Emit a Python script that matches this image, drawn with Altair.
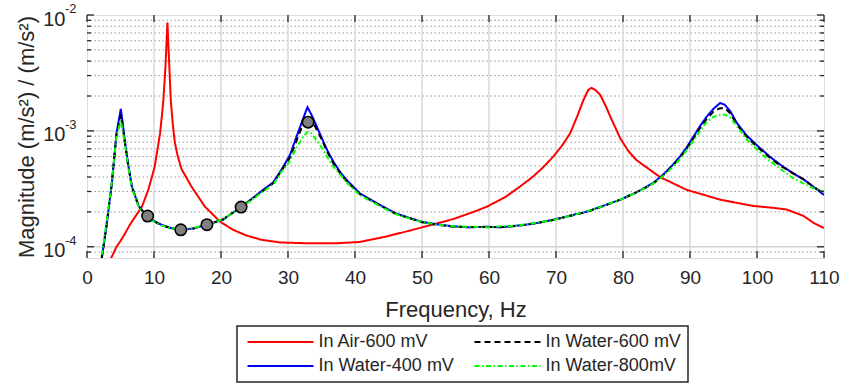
import altair as alt
import pandas as pd

# ---------------- data ----------------
air_f = [3.4, 3.7, 4.4, 5.0, 5.7, 6.4, 7.2, 8.2, 9.15, 10.1, 10.9, 11.15, 11.4, 11.7, 12.0,
         12.3, 12.5, 12.8, 13.1, 13.5, 14.1, 15.6, 17.6, 19.85, 21.8, 23.8, 26.0, 28.8, 33.3, 37.0,
         40.7, 44.5, 48.2, 51.5, 54.6, 57.5, 59.7, 62.5, 64.6, 66.5, 68.0, 69.6, 71.0,
         72.1, 73.2, 74.1, 74.8, 75.3, 75.9, 76.6, 77.4, 78.1, 79.6, 80.8, 82.0, 85.5,
         89.5, 94.5, 99.4, 102.0, 104.4, 106.9, 108.5, 110.0]
air_v = [7.6e-5, 8.2e-5, 1.0e-4, 1.12e-4, 1.31e-4, 1.55e-4, 1.82e-4, 2.22e-4, 3.1e-4,
         4.9e-4, 9.5e-4, 1.3e-3, 1.85e-3, 3.5e-3, 8.6e-3, 3.5e-3, 1.85e-3, 1.15e-3, 8.0e-4,
         6.2e-4, 4.7e-4, 3.3e-4, 2.22e-4, 1.65e-4, 1.4e-4, 1.25e-4, 1.15e-4, 1.09e-4, 1.07e-4, 1.07e-4,
         1.1e-4, 1.22e-4, 1.38e-4, 1.55e-4, 1.73e-4, 1.98e-4, 2.22e-4, 2.7e-4, 3.3e-4,
         4.0e-4, 4.8e-4, 6.0e-4, 7.6e-4, 9.5e-4, 1.35e-3, 1.85e-3, 2.25e-3, 2.35e-3,
         2.25e-3, 2.05e-3, 1.65e-3, 1.33e-3, 8.6e-4, 6.7e-4, 5.6e-4, 4.0e-4, 3.1e-4,
         2.55e-4, 2.25e-4, 2.18e-4, 2.1e-4, 1.85e-4, 1.6e-4, 1.45e-4]

water_f = [2.2, 2.9, 3.7, 4.4, 5.05, 5.4, 5.7, 6.2, 6.7, 7.7, 8.9, 10.0, 11.1, 12.5, 14.0,
           15.9, 17.9, 20.3, 23.0, 24.8, 26.3, 27.8, 29.0, 30.3, 31.3, 32.2, 32.9, 33.5,
           34.2, 35.0, 35.8, 36.8, 37.8, 38.7, 40.7, 43.7, 46.0, 48.2, 50.0, 52.0, 54.7,
           57.0, 59.7, 61.7, 63.6, 65.5, 67.1, 69.6, 72.0, 74.6, 77.0, 79.6, 82.0, 84.5,
           86.0, 87.3, 88.5, 89.5, 90.5, 91.5, 92.5, 93.5, 94.5, 95.2, 96.0, 97.0, 98.4,
           100.0, 101.9, 103.5, 105.4, 107.0, 108.4, 110.0]
w400_v = [7.9e-5, 1.5e-4, 3.5e-4, 9.5e-4, 1.55e-3, 1.08e-3, 7.8e-4, 4.9e-4, 3.3e-4, 2.25e-4,
          1.85e-4, 1.67e-4, 1.55e-4, 1.45e-4, 1.40e-4, 1.44e-4, 1.55e-4, 1.72e-4, 2.2e-4,
          2.65e-4, 3.1e-4, 3.6e-4, 4.6e-4, 6.2e-4, 9.0e-4, 1.25e-3, 1.6e-3, 1.38e-3,
          1.12e-3, 8.8e-4, 6.9e-4, 5.4e-4, 4.4e-4, 3.8e-4, 2.9e-4, 2.3e-4, 1.95e-4,
          1.77e-4, 1.64e-4, 1.57e-4, 1.50e-4, 1.47e-4, 1.49e-4, 1.47e-4, 1.51e-4, 1.55e-4,
          1.60e-4, 1.71e-4, 1.85e-4, 2.01e-4, 2.25e-4, 2.55e-4, 2.95e-4, 3.55e-4, 4.2e-4,
          5.0e-4, 6.0e-4, 7.2e-4, 8.9e-4, 1.1e-3, 1.33e-3, 1.55e-3, 1.74e-3, 1.68e-3,
          1.48e-3, 1.17e-3, 9.2e-4, 7.5e-4, 6.0e-4, 5.1e-4, 4.3e-4, 3.8e-4, 3.3e-4, 2.8e-4]
w600_v = [8.0e-5, 1.5e-4, 3.5e-4, 9.3e-4, 1.38e-3, 1.02e-3, 7.6e-4, 4.8e-4, 3.3e-4, 2.24e-4,
          1.84e-4, 1.66e-4, 1.54e-4, 1.45e-4, 1.40e-4, 1.44e-4, 1.55e-4, 1.72e-4, 2.2e-4,
          2.63e-4, 3.05e-4, 3.55e-4, 4.5e-4, 5.9e-4, 8.3e-4, 1.13e-3, 1.33e-3, 1.25e-3,
          1.05e-3, 8.5e-4, 6.7e-4, 5.2e-4, 4.3e-4, 3.7e-4, 2.85e-4, 2.28e-4, 1.93e-4,
          1.76e-4, 1.63e-4, 1.56e-4, 1.49e-4, 1.48e-4, 1.48e-4, 1.48e-4, 1.50e-4, 1.55e-4,
          1.60e-4, 1.70e-4, 1.84e-4, 2.0e-4, 2.24e-4, 2.55e-4, 2.95e-4, 3.5e-4, 4.15e-4,
          4.9e-4, 5.9e-4, 7.0e-4, 8.6e-4, 1.06e-3, 1.27e-3, 1.47e-3, 1.57e-3, 1.57e-3,
          1.42e-3, 1.13e-3, 9.0e-4, 7.3e-4, 5.9e-4, 5.0e-4, 4.3e-4, 3.8e-4, 3.3e-4, 2.9e-4]
w800_v = [8.5e-5, 1.6e-4, 3.6e-4, 9.0e-4, 1.22e-3, 9.5e-4, 7.4e-4, 4.7e-4, 3.2e-4, 2.2e-4,
          1.83e-4, 1.65e-4, 1.53e-4, 1.44e-4, 1.40e-4, 1.45e-4, 1.56e-4, 1.73e-4, 2.18e-4,
          2.6e-4, 3.0e-4, 3.45e-4, 4.4e-4, 5.5e-4, 7.2e-4, 8.8e-4, 9.8e-4, 9.5e-4,
          8.4e-4, 7.2e-4, 6.0e-4, 4.9e-4, 4.2e-4, 3.6e-4, 2.8e-4, 2.25e-4, 1.92e-4,
          1.75e-4, 1.64e-4, 1.56e-4, 1.50e-4, 1.49e-4, 1.47e-4, 1.50e-4, 1.51e-4, 1.56e-4,
          1.61e-4, 1.70e-4, 1.84e-4, 2.02e-4, 2.24e-4, 2.56e-4, 2.93e-4, 3.5e-4, 4.1e-4,
          4.8e-4, 5.7e-4, 6.8e-4, 8.2e-4, 1.0e-3, 1.2e-3, 1.32e-3, 1.38e-3, 1.38e-3,
          1.3e-3, 1.1e-3, 8.5e-4, 6.9e-4, 5.5e-4, 4.7e-4, 3.9e-4, 3.5e-4, 3.2e-4, 3.0e-4]

marker_f = [9.05, 14.0, 17.9, 23.0, 33.0]
marker_v = [1.84e-4, 1.40e-4, 1.55e-4, 2.2e-4, 1.19e-3]

series_names = ["In Air-600 mV", "In Water-600 mV", "In Water-400 mV", "In Water-800mV"]
series_colors = ["#ff0000", "#000000", "#0000ff", "#00ff00"]
series_dash = [[1, 0], [6, 4], [1, 0], [5, 2.5, 1.5, 2.5]]

x_ticks = [0, 10, 20, 30, 40, 50, 60, 70, 80, 90, 100, 110]
x_grid = [10, 20, 30, 40, 50, 60, 70, 80, 90, 100]
y_major = [1e-4, 1e-3, 1e-2]
y_exponents = ["-4", "-3", "-2"]
y_major_grid = [1e-4, 1e-3]
y_minor = [9e-5, 2e-4, 3e-4, 4e-4, 5e-4, 6e-4, 7e-4, 8e-4, 9e-4,
           2e-3, 3e-3, 4e-3, 5e-3, 6e-3, 7e-3, 8e-3, 9e-3]

# ---------------- tables ----------------
rows = []
for f, v in zip(air_f, air_v):
    rows.append({"f": f, "v": v, "series": series_names[0], "k": 0})
for name, vals, k in [(series_names[2], w400_v, 1), (series_names[1], w600_v, 2), (series_names[3], w800_v, 3)]:
    for f, v in zip(water_f, vals):
        rows.append({"f": f, "v": v, "series": name, "k": k})
lines_df = pd.DataFrame(rows)
markers_df = pd.DataFrame({"f": marker_f, "v": marker_v})

W, H = 737, 243
xs = alt.Scale(domain=[0, 110], nice=False, zero=False)
ys = alt.Scale(type="log", domain=[8e-5, 1e-2], nice=False)
AX = "#262626"

# grids
minor_grid = alt.Chart(pd.DataFrame({"y": y_minor})).mark_rule(
    color="#9a9a9a", strokeWidth=1, strokeDash=[1.5, 2.5]
).encode(y=alt.Y("y:Q", scale=ys))
hgrid = alt.Chart(pd.DataFrame({"y": y_major_grid})).mark_rule(
    color="#d4d4d4", strokeWidth=1.3
).encode(y=alt.Y("y:Q", scale=ys))
vgrid = alt.Chart(pd.DataFrame({"x": x_grid})).mark_rule(
    color="#d4d4d4", strokeWidth=1.3
).encode(x=alt.X("x:Q", scale=xs))

# inward ticks
xt = pd.DataFrame({"x": x_ticks})
xtick_b = alt.Chart(xt).mark_rule(color=AX, strokeWidth=1.3).encode(
    x=alt.X("x:Q", scale=xs), y=alt.value(H), y2=alt.value(H - 7))
xtick_t = alt.Chart(xt).mark_rule(color=AX, strokeWidth=1.3).encode(
    x=alt.X("x:Q", scale=xs), y=alt.value(0), y2=alt.value(7))
ymj = pd.DataFrame({"y": y_major, "e": y_exponents})
ymn = pd.DataFrame({"y": y_minor})
ytick_l = alt.Chart(ymj).mark_rule(color=AX, strokeWidth=1.3).encode(
    y=alt.Y("y:Q", scale=ys), x=alt.value(0), x2=alt.value(7))
ytick_r = alt.Chart(ymj).mark_rule(color=AX, strokeWidth=1.3).encode(
    y=alt.Y("y:Q", scale=ys), x=alt.value(W - 7), x2=alt.value(W))
ytick_ml = alt.Chart(ymn).mark_rule(color=AX, strokeWidth=1.3).encode(
    y=alt.Y("y:Q", scale=ys), x=alt.value(0), x2=alt.value(4))
ytick_mr = alt.Chart(ymn).mark_rule(color=AX, strokeWidth=1.3).encode(
    y=alt.Y("y:Q", scale=ys), x=alt.value(W - 4), x2=alt.value(W))

# exponent part of the y tick labels
exps = alt.Chart(ymj).mark_text(
    align="left", baseline="middle", fontSize=13, color=AX, dy=-6, font="Liberation Sans"
).encode(y=alt.Y("y:Q", scale=ys), x=alt.value(-22), text="e:N")

leg = dict(title=None, orient="none", legendX=150, legendY=311, direction="horizontal",
           columns=2, symbolType="M-6,0H6", symbolSize=121, symbolOffset=27.5,
           symbolStrokeWidth=2, labelFontSize=18, labelColor=AX, labelOffset=29,
           strokeColor=AX, padding=7, rowPadding=6, columnPadding=16, fillColor="white")

lines = alt.Chart(lines_df).mark_line(strokeWidth=2, clip=True).encode(
    x=alt.X("f:Q", scale=xs,
            axis=alt.Axis(values=x_ticks, title="Frequency, Hz", grid=False, ticks=False,
                          domain=False, labelFontSize=19, titleFontSize=22,
                          labelPadding=10, titlePadding=12, labelColor=AX, titleColor=AX,
                          titleFontWeight="normal", labelFlush=False)),
    y=alt.Y("v:Q", scale=ys,
            axis=alt.Axis(values=y_major, title="Magnitude (m/s²) / (m/s²)", grid=False,
                          ticks=False, domain=False, labelFontSize=20, titleFontSize=22,
                          labelPadding=22, labelOffset=4, titlePadding=4, labelColor=AX,
                          titleColor=AX, titleFontWeight="normal", labelFlush=False,
                          labelExpr="'10'")),
    color=alt.Color("series:N", scale=alt.Scale(domain=series_names, range=series_colors),
                    legend=alt.Legend(**leg)),
    strokeDash=alt.StrokeDash("series:N", scale=alt.Scale(domain=series_names, range=series_dash),
                              legend=alt.Legend(**leg)),
    order=alt.Order("f:Q"),
    detail="k:N",
)

markers = alt.Chart(markers_df).mark_point(
    filled=True, fill="#808080", stroke="#000000", strokeWidth=1.6, size=130, opacity=1
).encode(x=alt.X("f:Q", scale=xs), y=alt.Y("v:Q", scale=ys))

chart = alt.layer(
    minor_grid, hgrid, vgrid, lines, markers,
    xtick_b, xtick_t, ytick_l, ytick_r, ytick_ml, ytick_mr, exps
).properties(
    width=W, height=H,
    autosize=alt.AutoSizeParams(type="none"),
    padding={"left": 87, "top": 15, "right": 17, "bottom": 125},
    background="white",
).configure_view(stroke=AX, strokeWidth=1.5).configure(
    font="Liberation Sans"
).configure_legend(strokeWidth=1.5)

chart.save("out.html", embed_options={"renderer": "svg", "actions": False})
